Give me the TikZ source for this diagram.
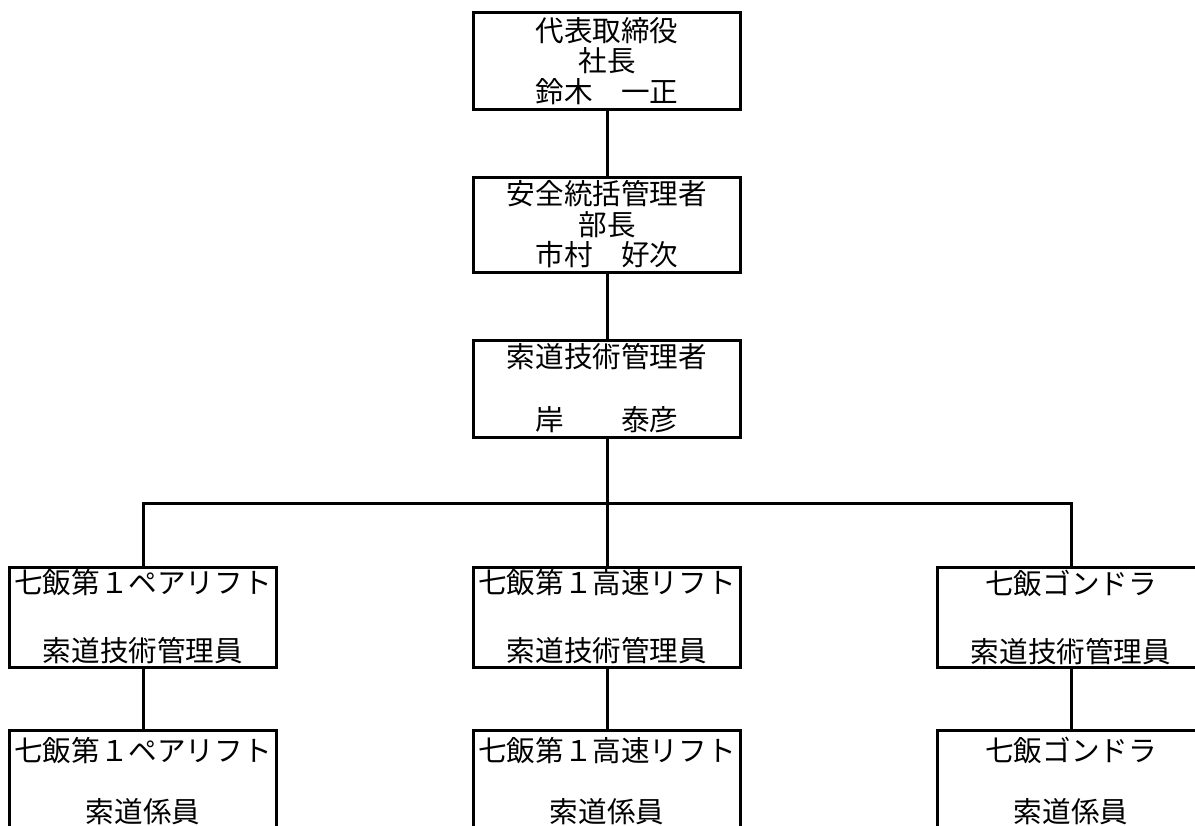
\documentclass[tikz,border=0pt]{standalone}
\usepackage{fontspec}
\newfontfamily\jpfont{Noto Sans CJK JP}
\begin{document}
\begin{tikzpicture}[x=0.75pt,y=-0.75pt,
  box/.style={draw=black,line width=2.25pt,inner sep=0pt,align=center,
    minimum width=200pt,fill=white},
  tb/.style={box,minimum height=72.5pt,font=\jpfont\fontsize{21.45pt}{22.9pt}\selectfont},
  mb/.style={box,minimum height=72.75pt,font=\jpfont\fontsize{21.45pt}{23.6pt}\selectfont},
  lb/.style={box,minimum height=75pt,font=\jpfont\fontsize{21.45pt}{25.5pt}\selectfont},
  conn/.style={line width=2.25pt,line join=miter}]
\useasboundingbox (0,0) rectangle (1195,825);
\clip (0,0) rectangle (1195,825);
\node[tb] (ceo) at (607,61) {代表取締役\\社長\\鈴木　一正};
\node[tb,minimum height=71.25pt] (saf) at (607,224.5) {安全統括管理者\\部長\\市村　好次};
\node[mb] (tech) at (607,388.5) {索道技術管理者\\[23.6pt]岸　　泰彦};
\coordinate (bar) at (607,503);
\node[lb] (l1) at (143,617) {七飯第１ペアリフト\\[25.5pt]索道技術管理員};
\node[lb] (m1) at (607,617) {七飯第１高速リフト\\[25.5pt]索道技術管理員};
\node[lb] (r1) at (1071,617) {七飯ゴンドラ\\[25.5pt]索道技術管理員};
\node[lb,minimum height=75.75pt] (l2) at (143,781) {七飯第１ペアリフト\\[20.5pt]索道係員};
\node[lb,minimum height=75.75pt] (m2) at (607,781) {七飯第１高速リフト\\[20.5pt]索道係員};
\node[lb,minimum height=75.75pt] (r2) at (1071,781) {七飯ゴンドラ\\[20.5pt]索道係員};
\draw[conn] (ceo) -- (saf);
\draw[conn] (saf) -- (tech);
\draw[conn] (tech.south) -- (bar) -- (m1.north);
\draw[conn] (l1.north) -- (l1.north |- bar) -- (r1.north |- bar) -- (r1.north);
\draw[conn] (l1) -- (l2);
\draw[conn] (m1) -- (m2);
\draw[conn] (r1) -- (r2);
\end{tikzpicture}
\end{document}
